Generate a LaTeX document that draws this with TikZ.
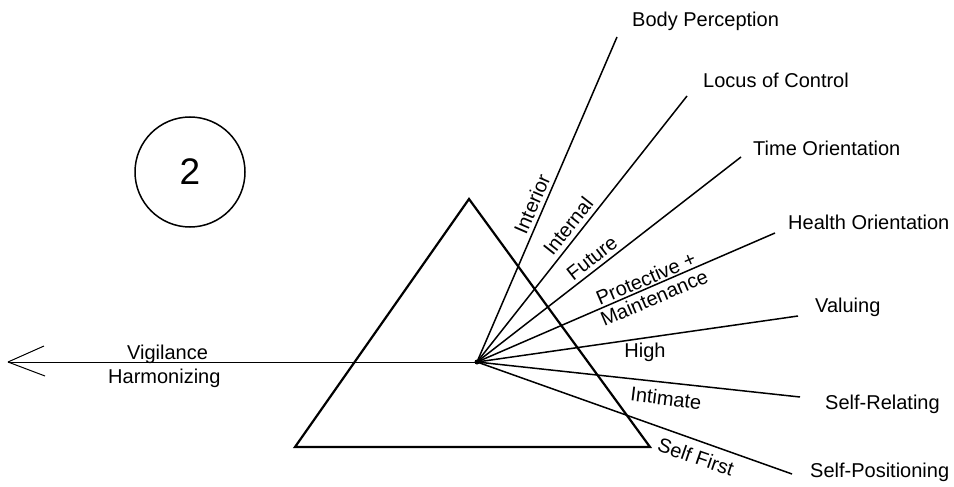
\documentclass[tikz,border=0pt]{standalone}
\usepackage{fontspec}
\setmainfont{Liberation Sans}
\begin{document}
\begin{tikzpicture}[x=1pt,y=-1pt,
  ray/.style={line width=1.5pt},
  tri/.style={line width=2.2pt, line join=miter},
  lab/.style={font=\fontsize{20}{22}\selectfont, inner sep=0pt, anchor=base west},
  rlab/.style={font=\fontsize{20}{21}\selectfont, inner sep=0pt, align=center},
  thin/.style={line width=1pt}]
\useasboundingbox (0,0) rectangle (954,487);
% triangle
\coordinate (TA) at (469,199);
\coordinate (TL) at (295,447);
\coordinate (TR) at (650,447);
\draw[tri] (TA) -- (TL) -- (TR) -- cycle;
% focal point and ends
\coordinate (F) at (477,362);
\coordinate (eB) at (617,37);
\coordinate (eL) at (687,96);
\coordinate (eT) at (741,157);
\coordinate (eH) at (775,233);
\coordinate (eV) at (798,316);
\coordinate (eR) at (800,397);
\coordinate (eP) at (792,474);
\coordinate (tip) at (8,362);
\foreach \e in {eB,eL,eT,eH,eV,eR,eP}{\draw[ray] (F) -- (\e);}
\fill (F) circle (2.5pt);
% arrow
\draw[thin] (F) -- (tip);
\draw[thin] (tip) -- ++(36,-16);
\draw[thin] (tip) -- ++(37,14);
% right labels
\node[lab] (nB) at (632,27) {Body Perception};
\node[lab] (nL) at (703,88) {Locus of Control};
\node[lab] (nT) at (753,155) {Time Orientation};
\node[lab] (nH) at (788,229) {Health Orientation};
\node[lab] (nV) at (815,312) {Valuing};
\node[lab] (nR) at (825,409) {Self-Relating};
\node[lab] (nP) at (810,477) {Self-Positioning};
% along-ray labels
\node[rlab, rotate=66.6] (lI) at (532,204) {Interior};
\node[rlab, rotate=51.6] (lN) at (568,226) {Internal};
\node[rlab, rotate=37.7] (lF) at (592,258) {Future};
\node[rlab, rotate=23.2] (lP) at (650,288) {Protective +\\Maintenance};
\node[rlab] (lH) at (645,352) {High};
\node[rlab, rotate=-7] (lM) at (666,398) {Intimate};
\node[rlab, rotate=-19] (lS) at (696,457) {Self First};
% arrow labels
\node[lab] (vig) at (127,359) {Vigilance};
\node[lab] (har) at (108,383) {Harmonizing};
% circle
\node[draw, circle, line width=1.5pt, minimum size=110pt, inner sep=0pt,
      font=\fontsize{37}{40}\selectfont] (two) at (190,172) {2};
\end{tikzpicture}
\end{document}
